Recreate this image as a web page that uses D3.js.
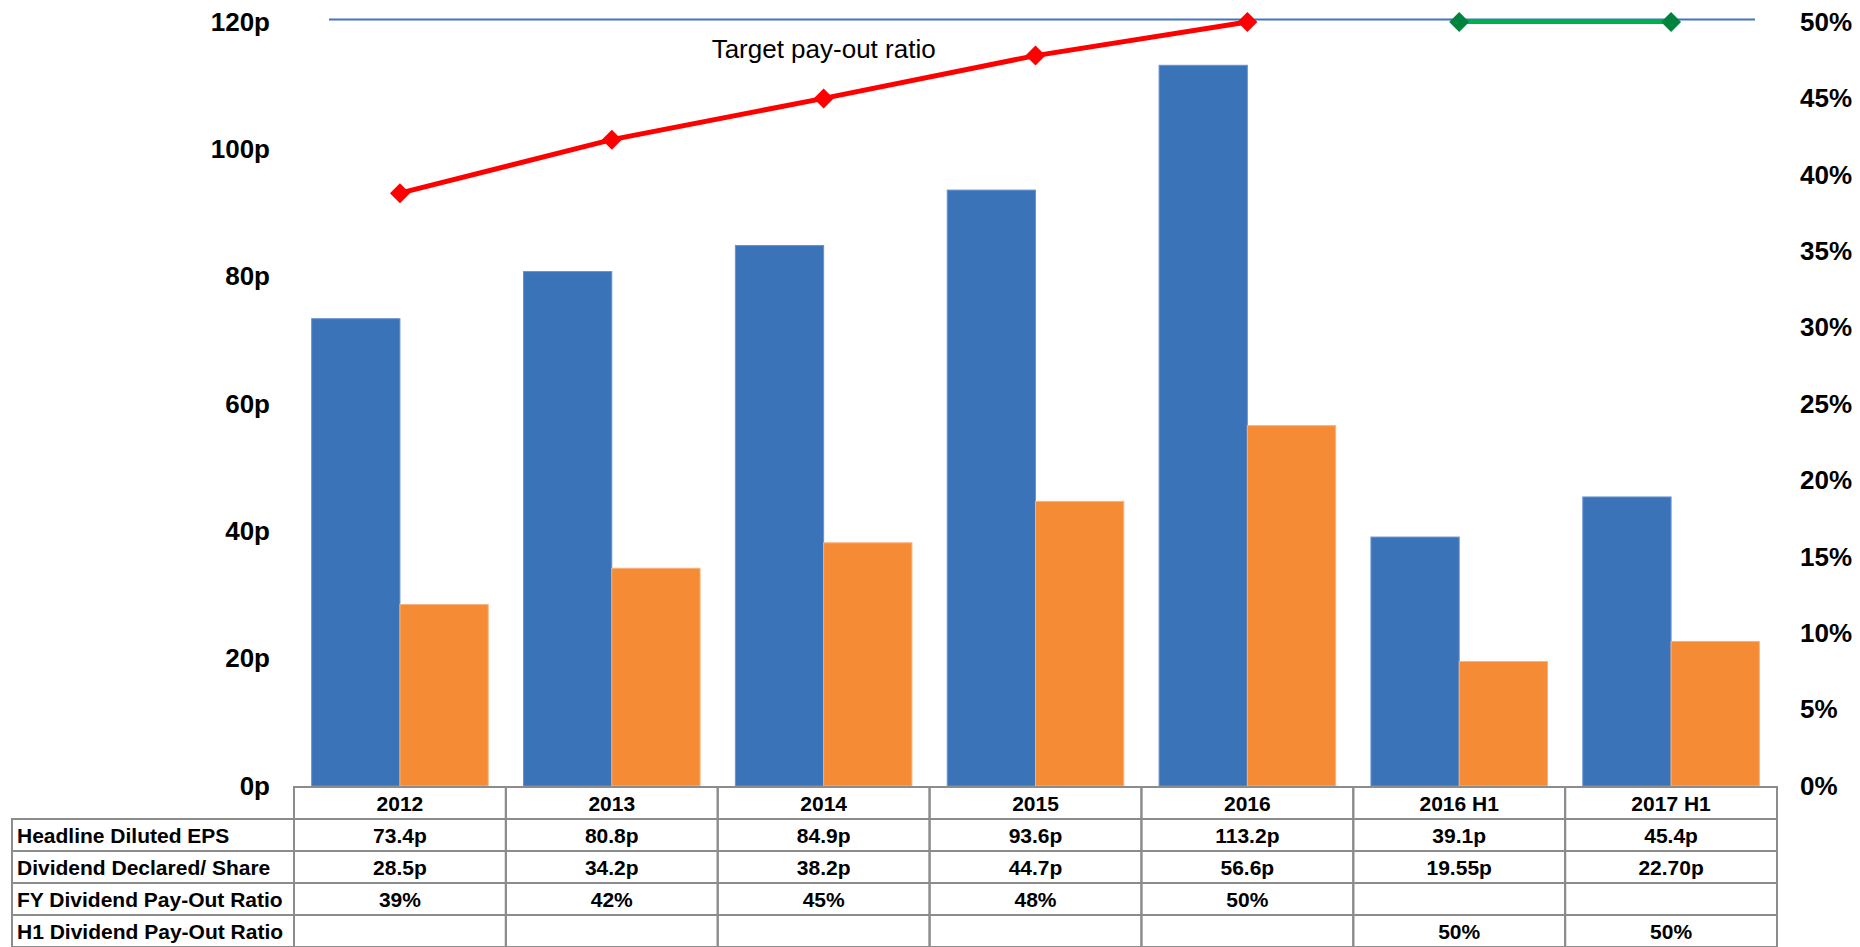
<!DOCTYPE html>
<html>
<head>
<meta charset="utf-8">
<script src="https://cdn.jsdelivr.net/npm/d3@7"></script>
<style>
  html, body { margin: 0; padding: 0; background: #ffffff; }
  svg { display: block; font-family: "Liberation Sans", Arial, Helvetica, sans-serif; }
</style>
</head>
<body>
<svg id="chart" width="1860" height="947"></svg>
<script>
// ---- Data ----
const categories = ["2012", "2013", "2014", "2015", "2016", "2016 H1", "2017 H1"];
const epsValues = [73.4, 80.8, 84.9, 93.6, 113.2, 39.1, 45.4];
const dividendValues = [28.5, 34.2, 38.2, 44.7, 56.6, 19.55, 22.70];
const dividendDecimals = [1, 1, 1, 1, 1, 2, 2];
const fyPayoutRatio = [38.8, 42.3, 45.0, 47.8, 50.0, null, null];
const h1PayoutRatio = [null, null, null, null, null, 50, 50];
const targetRatio = 50;
const leftTicks = [0, 20, 40, 60, 80, 100, 120];
const rightTicks = [0, 5, 10, 15, 20, 25, 30, 35, 40, 45, 50];
const rowLabels = ["Headline Diluted EPS", "Dividend Declared/ Share", "FY Dividend Pay-Out Ratio", "H1 Dividend Pay-Out Ratio"];

// ---- Layout ----
const plot = { left: 294, right: 1777, top: 22, bottom: 786 };
const table = { labelLeft: 12, headerTop: 787, rowH: 32 };
const colors = {
  eps: "#3b73b8", epsEdge: "#6892cf",
  div: "#f58b35", divEdge: "#f9b27c",
  fy: "#ff0000", h1Line: "#00b050", h1Marker: "#00843d",
  target: "#4472c4", grid: "#8c8c8c"
};

const svg = d3.select("#chart");
svg.append("rect").attr("width", 1860).attr("height", 947).attr("fill", "#fff");

const x0 = d3.scaleBand().domain(categories).range([plot.left, plot.right]);
const x1 = d3.scaleBand().domain(["eps", "div"]).range([0, x0.bandwidth()]).paddingOuter(0.2).paddingInner(0);
const y = d3.scaleLinear().domain([0, 120]).range([plot.bottom, plot.top]);
const yR = d3.scaleLinear().domain([0, 50]).range([plot.bottom, plot.top]);
const cx = c => x0(c) + x0.bandwidth() / 2;

// ---- Bars ----
const barData = categories.map((c, i) => ({ c, eps: epsValues[i], div: dividendValues[i] }));
const groups = svg.append("g").selectAll("g").data(barData).join("g")
  .attr("transform", d => `translate(${x0(d.c)},0)`);
groups.append("rect")
  .attr("x", x1("eps")).attr("width", x1.bandwidth())
  .attr("y", d => y(d.eps)).attr("height", d => y(0) - y(d.eps))
  .attr("fill", colors.eps).attr("stroke", colors.epsEdge).attr("stroke-width", 1);
groups.append("rect")
  .attr("x", x1("div")).attr("width", x1.bandwidth())
  .attr("y", d => y(d.div)).attr("height", d => y(0) - y(d.div))
  .attr("fill", colors.div).attr("stroke", colors.divEdge).attr("stroke-width", 1);

// ---- Target pay-out ratio reference line ----
const bw = x0.bandwidth();
svg.append("line")
  .attr("x1", plot.left + 0.165 * bw).attr("x2", plot.right - 0.104 * bw)
  .attr("y1", yR(targetRatio) - 2.5).attr("y2", yR(targetRatio) - 2.5)
  .attr("stroke", colors.target).attr("stroke-width", 2);

svg.append("text")
  .attr("x", cx("2014")).attr("y", yR(targetRatio) + 27)
  .attr("text-anchor", "middle").attr("dominant-baseline", "central")
  .attr("font-size", 26).attr("fill", "#000")
  .text("Target pay-out ratio");

// ---- Ratio lines ----
const diamond = d3.symbol().type(d3.symbolSquare).size(200);
function ratioSeries(values, lineColor, markerColor, width) {
  const pts = categories.map((c, i) => ({ c, v: values[i] })).filter(d => d.v != null);
  svg.append("path").datum(pts)
    .attr("fill", "none").attr("stroke", lineColor).attr("stroke-width", width)
    .attr("stroke-linejoin", "round")
    .attr("d", d3.line().x(d => cx(d.c)).y(d => yR(d.v)));
  svg.append("g").selectAll("path").data(pts).join("path")
    .attr("d", diamond)
    .attr("transform", d => `translate(${cx(d.c)},${yR(d.v)}) rotate(45)`)
    .attr("fill", markerColor);
}
ratioSeries(fyPayoutRatio, colors.fy, colors.fy, 5);
ratioSeries(h1PayoutRatio, colors.h1Line, colors.h1Marker, 4);

// ---- Axes ----
const leftAxis = svg.append("g").attr("transform", `translate(${plot.left},0)`)
  .call(d3.axisLeft(y).tickValues(leftTicks).tickFormat(d => d + "p").tickSize(0).tickPadding(24));
const rightAxis = svg.append("g").attr("transform", `translate(${plot.right},0)`)
  .call(d3.axisRight(yR).tickValues(rightTicks).tickFormat(d => d + "%").tickSize(0).tickPadding(23));
[leftAxis, rightAxis].forEach(a => {
  a.select(".domain").remove();
  a.selectAll("text").attr("font-size", 26).attr("font-weight", "bold").attr("fill", "#000")
    .attr("font-family", "'Liberation Sans', Arial, sans-serif");
});

// ---- Data table ----
const fmtPct = d3.format(".0f");
const rows = [
  categories.map((c, i) => epsValues[i].toFixed(1) + "p"),
  categories.map((c, i) => dividendValues[i].toFixed(dividendDecimals[i]) + "p"),
  categories.map((c, i) => fyPayoutRatio[i] == null ? "" : fmtPct(fyPayoutRatio[i]) + "%"),
  categories.map((c, i) => h1PayoutRatio[i] == null ? "" : fmtPct(h1PayoutRatio[i]) + "%")
];
const tbl = svg.append("g").attr("font-size", 21).attr("font-weight", "bold").attr("fill", "#000");
const cellStyle = sel => sel.attr("fill", "none").attr("stroke", colors.grid).attr("stroke-width", 2);

// header row
const header = tbl.append("g").selectAll("g").data(categories).join("g");
header.append("rect").call(cellStyle)
  .attr("x", d => x0(d)).attr("width", bw)
  .attr("y", table.headerTop).attr("height", table.rowH);
header.append("text")
  .attr("x", d => cx(d)).attr("y", table.headerTop + table.rowH / 2)
  .attr("text-anchor", "middle").attr("dominant-baseline", "central")
  .text(d => d);

// body rows
rows.forEach((row, r) => {
  const top = table.headerTop + table.rowH * (r + 1);
  const g = tbl.append("g");
  g.append("rect").call(cellStyle)
    .attr("x", table.labelLeft).attr("width", plot.left - table.labelLeft)
    .attr("y", top).attr("height", table.rowH);
  g.append("text")
    .attr("x", table.labelLeft + 5).attr("y", top + table.rowH / 2)
    .attr("dominant-baseline", "central")
    .text(rowLabels[r]);
  const cells = g.selectAll("g").data(categories.map((c, i) => ({ c, t: row[i] }))).join("g");
  cells.append("rect").call(cellStyle)
    .attr("x", d => x0(d.c)).attr("width", bw)
    .attr("y", top).attr("height", table.rowH);
  cells.append("text")
    .attr("x", d => cx(d.c)).attr("y", top + table.rowH / 2)
    .attr("text-anchor", "middle").attr("dominant-baseline", "central")
    .text(d => d.t);
});
</script>
</body>
</html>
